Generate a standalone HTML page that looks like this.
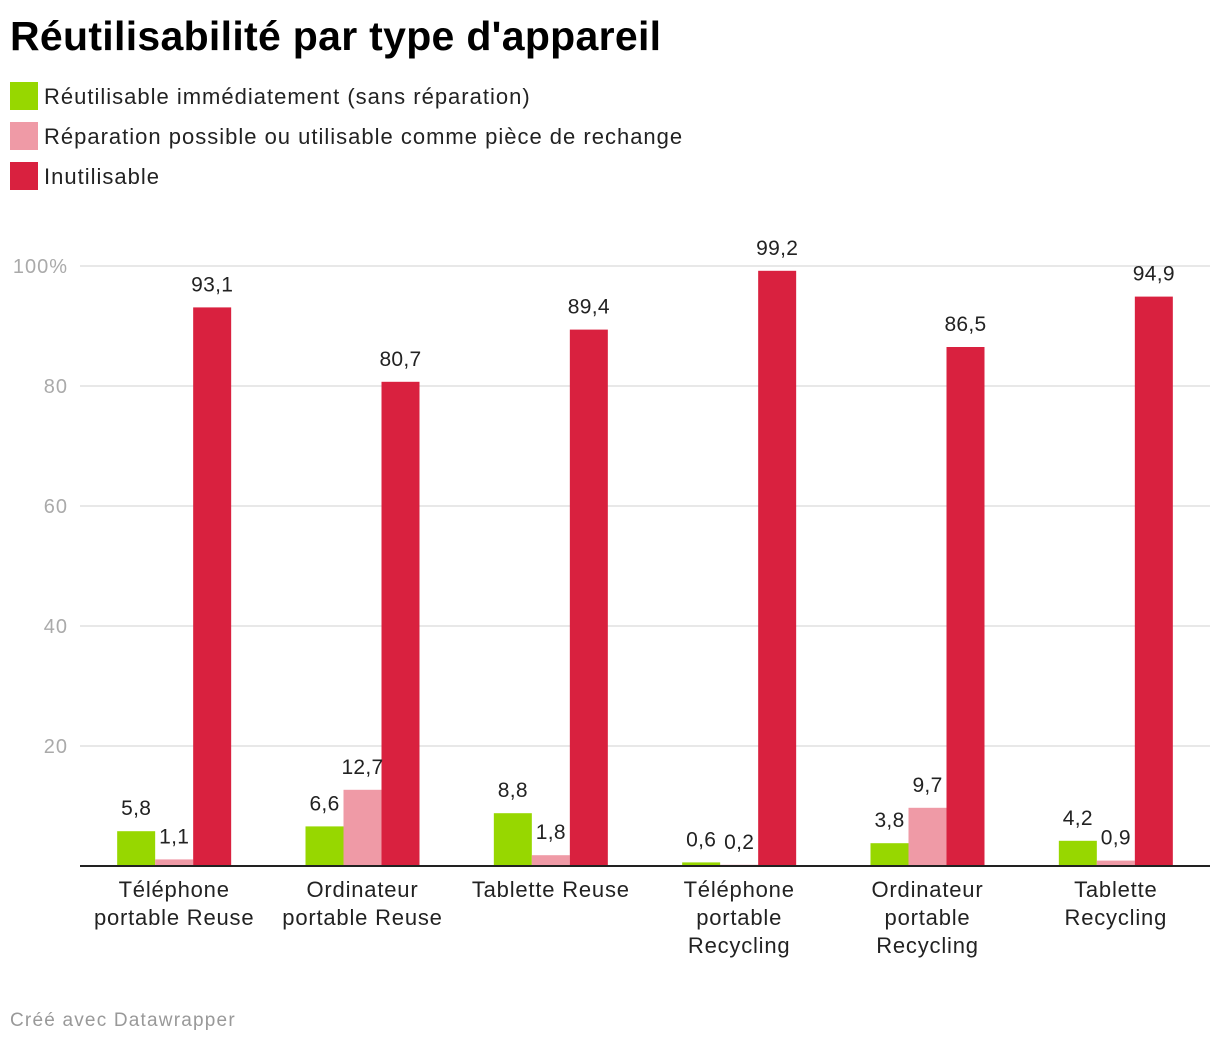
<!DOCTYPE html>
<html><head><meta charset="utf-8"><style>
body{margin:0;background:#fff;font-family:"Liberation Sans",sans-serif;}
svg{display:block}
</style></head><body>
<svg id="c" width="1220" height="1042" xmlns="http://www.w3.org/2000/svg">
<text x="10" y="50" font-size="41" font-weight="bold" letter-spacing="0.3" fill="#000">Réutilisabilité par type d'appareil</text>
<g letter-spacing="1">
<rect x="10" y="82" width="28" height="28" fill="#97d700"/>
<text x="44" y="104" font-size="22" fill="#222">Réutilisable immédiatement (sans réparation)</text>
<rect x="10" y="122" width="28" height="28" fill="#ef9aa6"/>
<text x="44" y="144" font-size="22" fill="#222">Réparation possible ou utilisable comme pièce de rechange</text>
<rect x="10" y="162" width="28" height="28" fill="#d9213f"/>
<text x="44" y="184" font-size="22" fill="#222">Inutilisable</text>
</g>
<g id="grid"></g><g id="bars"></g><g id="labels"></g>
<text x="10" y="1026" font-size="19" letter-spacing="1.2" fill="#999">Créé avec Datawrapper</text>
</svg>
<script>
const categories = [["Téléphone","portable Reuse"],["Ordinateur","portable Reuse"],["Tablette Reuse"],["Téléphone","portable","Recycling"],["Ordinateur","portable","Recycling"],["Tablette","Recycling"]];
const reusable = [5.8, 6.6, 8.8, 0.6, 3.8, 4.2];
const repairable = [1.1, 12.7, 1.8, 0.2, 9.7, 0.9];
const unusable = [93.1, 80.7, 89.4, 99.2, 86.5, 94.9];
const yTicks = [0, 20, 40, 60, 80, 100];
const yTickLabels = ["", "20", "40", "60", "80", "100%"];

const NS = "http://www.w3.org/2000/svg";
const x0 = 80, x1 = 1210, yBase = 866, yTop = 266;
const y = v => yBase - (v / 100) * (yBase - yTop);
const groupW = (x1 - x0) / categories.length;
const cx = i => x0 + groupW * (i + 0.5);
function mk(tag, attrs, parent, text){
  const e = document.createElementNS(NS, tag);
  for (const k in attrs) e.setAttribute(k, attrs[k]);
  if (text !== undefined) e.textContent = text;
  parent.appendChild(e); return e;
}
const grid = document.getElementById('grid');
const bars = document.getElementById('bars');
const labels = document.getElementById('labels');
yTicks.forEach((t, i) => {
  if (t !== 0) {
    const l = mk('line', {x1: x0, x2: x1, y1: y(t), y2: y(t), stroke: '#e0e0e0', 'stroke-width': 1.5}, grid);
    
    
  }
  const tx = mk('text', {x: 68, y: y(t) + 7, 'font-size': 20, 'letter-spacing': 1, fill: '#aaa', 'text-anchor': 'end'}, grid, yTickLabels[i]);
  
  
});
const series = [[reusable, '#97d700', 'reusable'], [repairable, '#ef9aa6', 'repairable'], [unusable, '#d9213f', 'unusable']];
const bw = 38;
categories.forEach((cat, i) => {
  series.forEach((s, j) => {
    const v = s[0][i];
    const bx = cx(i) - 57 + j * bw;
    const r = mk('rect', {x: bx, y: y(v), width: bw, height: yBase - y(v), fill: s[1]}, bars);
    
    
    const t = mk('text', {x: bx + bw / 2, y: y(v) - 16, 'font-size': 21, 'letter-spacing': 0.3, fill: '#222', 'text-anchor': 'middle'}, labels, String(v).replace('.', ','));
    
    
  });
  cat.forEach((line, k) => {
    const t = mk('text', {x: cx(i), y: 897 + k * 28, 'font-size': 22, 'letter-spacing': 0.8, fill: '#222', 'text-anchor': 'middle'}, labels, line);
    
    
  });
});
const ax = mk('line', {x1: x0, x2: x1, y1: yBase, y2: yBase, stroke: '#222', 'stroke-width': 2}, labels);


</script>
</body></html>
